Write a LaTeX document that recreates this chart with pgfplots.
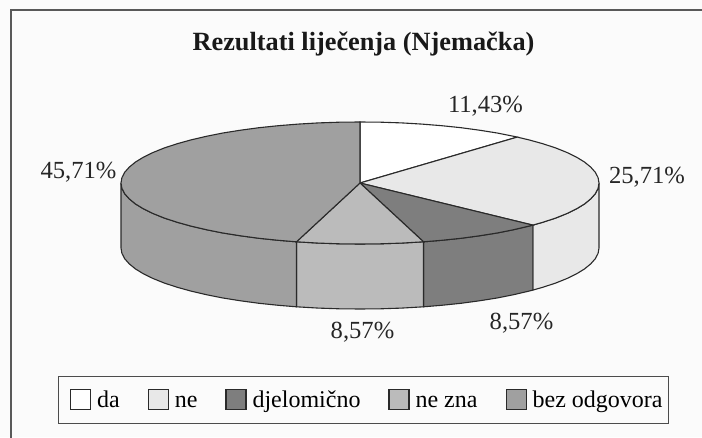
\documentclass[border=0pt]{standalone}
\usepackage{pgfplots}
\pgfplotsset{compat=1.18}
\usepackage{fontspec}
\setmainfont{Liberation Serif}
\definecolor{cbg}{HTML}{FBFBFB}
\definecolor{cne}{HTML}{E8E8E8}
\definecolor{cdj}{HTML}{7E7E7E}
\definecolor{cnz}{HTML}{BBBBBB}
\definecolor{cbo}{HTML}{A0A0A0}
\definecolor{cedge}{HTML}{2A2A2A}
\begin{document}
\begin{tikzpicture}
\begin{axis}[
  width=702pt, height=437pt, scale only axis, hide axis,
  xmin=0, xmax=702, ymin=0, ymax=437,
  legend columns=5,
  legend cell align=left,
  legend style={at={(axis cs:363.5,37)}, anchor=center, draw=black!70, line width=0.9pt, fill=cbg,
    font=\fontsize{24}{28}\selectfont, inner xsep=3.5pt, inner ysep=12pt,
    cells={anchor=base west},
    /tikz/every odd column/.append style={column sep=4pt},
    /tikz/every even column/.append style={column sep=18.5pt}},
  legend image code/.code={\path (0pt,0pt); \draw[#1, line width=1.1pt, draw=cedge] (7.5pt,-2pt) rectangle (27.5pt,18pt);},
]
% background and frame
\addplot[draw=none, fill=cbg, forget plot] coordinates {(0,0)(702,0)(702,437)(0,437)} \closedcycle;
\addplot[draw=black!65, line width=1.6pt, forget plot] coordinates {(11,-3)(11,427)(705,427)};
% walls
\addplot[fill=cne, draw=cedge, line width=1.1pt, forget plot] coordinates {
(599,254)(598.1,248.7)(595.4,243.4)(590.8,238.2)(584.6,233.1)(576.6,228.2)(567.0,223.5)(555.8,219.0)(543.1,214.8)(532.8,211.9)
(532.8,146.9)(543.1,149.8)(555.8,154.0)(567.0,158.5)(576.6,163.2)(584.6,168.1)(590.8,173.2)(595.4,178.4)(598.1,183.7)(599,189)
(599,254)};
\addplot[fill=cdj, draw=cedge, line width=1.1pt, forget plot] coordinates {
(532.8,211.9)(529,210.9)(513.6,207.3)(497.1,204)(479.5,201.2)(461,198.7)(441.7,196.7)(423.5,195.2)
(423.5,130.2)(441.7,131.7)(461,133.7)(479.5,136.2)(497.1,139)(513.6,142.3)(529,145.9)(532.8,146.9)
(532.8,211.9)};
\addplot[fill=cnz, draw=cedge, line width=1.1pt, forget plot] coordinates {
(423.5,195.2)(421.9,195.1)(401.5,193.9)(380.8,193.2)(360,193)(339.2,193.2)(318.5,193.9)(298.1,195.1)(296.5,195.2)
(296.5,130.2)(298.1,130.1)(318.5,128.9)(339.2,128.2)(360,128)(380.8,128.2)(401.5,128.9)(421.9,130.1)(423.5,130.2)
(423.5,195.2)};
\addplot[fill=cbo, draw=cedge, line width=1.1pt, forget plot] coordinates {
(296.5,195.2)(278.3,196.7)(259,198.7)(240.5,201.2)(222.9,204)(206.4,207.3)(191,210.9)(176.9,214.8)(164.2,219)(153,223.5)(143.4,228.2)(135.4,233.1)(129.2,238.2)(124.6,243.4)(121.9,248.7)(121,254)
(121,189)(121.9,183.7)(124.6,178.4)(129.2,173.2)(135.4,168.1)(143.4,163.2)(153,158.5)(164.2,154)(176.9,149.8)(191,145.9)(206.4,142.3)(222.9,139)(240.5,136.2)(259,133.7)(278.3,131.7)(296.5,130.2)
(296.5,195.2)};
% top slices
\addplot[fill=white, draw=cedge, line width=1.1pt] coordinates {
(360,254)(360,315)(380.8,314.8)(401.5,314.1)(421.9,312.9)(441.7,311.3)(461,309.3)(479.5,306.8)(497.1,304)(513.6,300.7)(517.2,299.9)(360,254)};
\addlegendentry{da}
\addplot[fill=cne, draw=cedge, line width=1.1pt] coordinates {
(360,254)(517.2,299.9)(529,297.1)(543.1,293.2)(555.8,289)(567,284.5)(576.6,279.8)(584.6,274.9)(590.8,269.8)(595.4,264.6)(598.1,259.3)(599,254)(598.1,248.7)(595.4,243.4)(590.8,238.2)(584.6,233.1)(576.6,228.2)(567,223.5)(555.8,219)(543.1,214.8)(532.8,211.9)(360,254)};
\addlegendentry{ne}
\addplot[fill=cdj, draw=cedge, line width=1.1pt] coordinates {
(360,254)(532.8,211.9)(529,210.9)(513.6,207.3)(497.1,204)(479.5,201.2)(461,198.7)(441.7,196.7)(423.5,195.2)(360,254)};
\addlegendentry{djelomično}
\addplot[fill=cnz, draw=cedge, line width=1.1pt] coordinates {
(360,254)(423.5,195.2)(421.9,195.1)(401.5,193.9)(380.8,193.2)(360,193)(339.2,193.2)(318.5,193.9)(298.1,195.1)(296.5,195.2)(360,254)};
\addlegendentry{ne zna}
\addplot[fill=cbo, draw=cedge, line width=1.1pt] coordinates {
(360,254)(296.5,195.2)(278.3,196.7)(259,198.7)(240.5,201.2)(222.9,204)(206.4,207.3)(191,210.9)(176.9,214.8)(164.2,219)(153,223.5)(143.4,228.2)(135.4,233.1)(129.2,238.2)(124.6,243.4)(121.9,248.7)(121,254)(121.9,259.3)(124.6,264.6)(129.2,269.8)(135.4,274.9)(143.4,279.8)(153,284.5)(164.2,289)(176.9,293.2)(191,297.1)(206.4,300.7)(222.9,304)(240.5,306.8)(259,309.3)(278.3,311.3)(298.1,312.9)(318.5,314.1)(339.2,314.8)(360,315)(360,254)};
\addlegendentry{bez odgovora}
% texts
\node[font=\fontsize{26.3}{30}\selectfont\bfseries, text=black!90] at (axis cs:363.5,393) {Rezultati liječenja (Njemačka)};
\node[font=\fontsize{24.6}{29}\selectfont, text=black!85] at (axis cs:485.5,331) {11,43\%};
\node[font=\fontsize{24.6}{29}\selectfont, text=black!85] at (axis cs:647,260) {25,71\%};
\node[font=\fontsize{24.6}{29}\selectfont, text=black!85] at (axis cs:78.5,265) {45,71\%};
\node[font=\fontsize{24.6}{29}\selectfont, text=black!85] at (axis cs:362.5,105) {8,57\%};
\node[font=\fontsize{24.6}{29}\selectfont, text=black!85] at (axis cs:521.5,114) {8,57\%};
\end{axis}
\end{tikzpicture}
\end{document}
